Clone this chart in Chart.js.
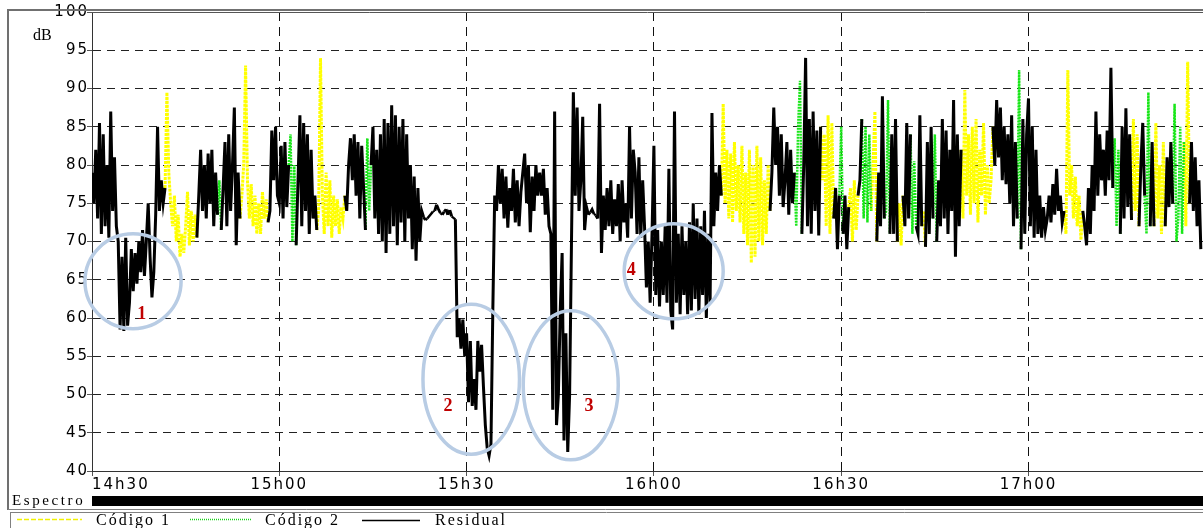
<!DOCTYPE html>
<html>
<head>
<meta charset="utf-8">
<script src="https://cdn.jsdelivr.net/npm/chart.js@4/dist/chart.umd.min.js"></script>
<style>
html,body{margin:0;padding:0;background:#fff;overflow:hidden}
#c{display:block}
</style>
</head>
<body>
<canvas id="c" width="1203" height="528"></canvas>
<script>
// ---- DATA -------------------------------------------------------------
const STEP_MIN = 0.3;                 // minutes between readings (from 14h30)
const X_MAX_MIN = 177.95;             // visible end of the time axis
const timeTicks = [0, 30, 60, 90, 120, 150];
const tickLabels = ['14h30', '15h00', '15h30', '16h00', '16h30', '17h00'];
const dbTicks = [40, 45, 50, 55, 60, 65, 70, 75, 80, 85, 90, 95, 100];
const seriesNames = ['Código 1', 'Código 2', 'Residual'];
const seriesCodes = ['c1', 'c2', 'res'];

// measured level (dB), one reading per STEP_MIN
const level = [
  79, 75, 82, 73, 85.5, 71, 84, 72, 80, 70.5,
  87, 74, 81, 72, 70, 58.5, 68, 58.3, 70.5, 59,
  62, 69, 63.5, 68.5, 64.5, 70, 66, 71.5, 65.5, 70,
  75, 68, 62.7, 66, 73.5, 85, 74, 78, 75, 77,
  89.5, 79, 75, 72, 76, 70, 73.5, 68, 71, 68.5,
  72, 76.5, 69.5, 74, 70, 73.5, 70.5, 76, 82, 74,
  80, 73, 81.5, 75, 82, 72, 79, 73.5, 78, 71.5,
  77, 83, 72, 84, 74, 80, 87.5, 69.5, 79, 73,
  76, 80, 93, 78, 73, 77.5, 72, 76, 71, 75,
  71, 76.5, 73, 75.5, 72.5, 74, 84.5, 78, 85, 76,
  75, 82.5, 73, 83, 74.5, 80, 84, 70, 80, 69.5,
  78, 86.5, 72, 85.5, 74, 84, 71, 82, 73, 76,
  71.5, 74, 94, 76, 71, 79, 72, 78, 70.5, 76,
  72, 75.5, 71, 74.5, 73, 76, 74, 80, 83.5, 78,
  84, 76, 83, 73, 82.5, 77, 71.5, 83.5, 74, 80,
  85, 73, 82, 71, 84, 70, 86, 68.5, 85.5, 71,
  87.8, 72, 86.5, 69.5, 85, 72.5, 86, 70, 84, 73,
  80, 69, 78.5, 67.5, 77, 70, 74, 73.2, 72.8, 73,
  73.3, 73.6, 73.9, 74, 74.8, 74.2, 73.7, 73.5, 73.9, 74.2,
  73.5, 74.1, 73.3, 73.1, 72.9, 57.5, 60, 56, 59.8, 55,
  58, 49, 57, 48.5, 52, 48, 57, 53, 56.5, 51,
  46, 43, 42, 43.5, 61, 76, 74, 80, 75, 79.5,
  73, 78.5, 71.8, 77, 74, 79.5, 72.5, 78, 72, 76.5,
  79, 81.5, 75, 80, 71.2, 78.5, 74, 80, 76, 79,
  76, 79.5, 73.5, 77, 72, 71, 48, 87, 46, 50,
  61, 68.5, 44, 58, 42.5, 50, 70, 89.5, 76, 87.5,
  74, 78, 86.3, 71.5, 74.5, 73.5, 73.8, 74.2, 73.6, 73.4,
  73, 88, 68.5, 76, 71.5, 77, 72, 78, 71, 75.5,
  72, 77.5, 70, 78, 72.5, 75, 70.5, 85, 73, 82,
  79, 71, 81, 70.5, 78, 72, 64, 70, 62, 71,
  82.5, 63, 71.5, 61.5, 70, 63, 72, 62, 79.5, 61,
  58.5, 87, 62, 71, 60.5, 72, 63, 70, 60.5, 72.5,
  61, 75, 62.5, 73, 60.5, 72, 63, 74, 60, 71,
  62, 86.8, 72, 79, 74, 80, 76, 88, 75, 82,
  73, 81.5, 72.5, 83, 74, 80, 72.5, 82.5, 71, 79,
  69.5, 82, 67.2, 80, 68, 82.5, 70, 81, 69.5, 78,
  71, 80, 74, 79, 87.5, 80, 85, 76, 84, 74.5,
  78, 83, 73.5, 82, 75, 79, 72, 85, 91, 71,
  80, 94, 72, 86, 71, 87, 74, 84.5, 70.8, 85,
  78, 84, 72, 86.5, 71, 85.5, 73, 77, 69, 76,
  85, 71, 76, 69, 74.5, 77, 70, 78, 71.5, 76,
  78, 86, 73, 85, 72.5, 84, 74, 80, 87, 70,
  79, 72, 89, 73, 74, 88.5, 71, 84, 71, 86,
  70, 75, 69.5, 76, 72, 85.5, 73, 84, 71, 80.5,
  72, 71, 86.5, 72, 74, 69.3, 83, 71, 85, 73,
  84, 70, 78, 72, 86, 73, 84.5, 71, 82, 74,
  88.5, 68, 84, 72, 82, 73, 89.8, 76, 84, 73.5,
  85, 75, 86, 72.5, 82, 76, 85.5, 73.5, 80, 75,
  78, 85, 80, 88.5, 81, 87.5, 78, 85, 77.5, 84,
  75, 86.5, 72, 83, 73, 92.4, 69, 86, 71, 84,
  88.7, 72, 85, 70.5, 82, 71, 76, 70.5, 74.5, 71.5,
  73, 76, 72.5, 77.5, 73.5, 79.5, 74, 76, 72.5, 74,
  71, 92.4, 76, 80, 73, 78.5, 72, 76, 70.2, 74,
  72, 69.5, 77, 71, 80, 74, 87, 76, 84, 78,
  82, 76, 84.5, 78, 92.7, 77, 83.5, 72, 82, 71,
  85, 73, 87.4, 74.5, 84, 72.8, 86, 74, 84, 72,
  80, 85.5, 76, 71, 89.5, 72, 83, 72, 85.5, 73,
  80, 71, 83, 72, 81, 74.5, 83, 75, 88, 70,
  73, 85, 71, 83, 72, 93.5, 75, 83, 74, 81,
  72, 78, 69
];

// which source each run of readings belongs to: [code, number of readings]
const sourceRuns = [
  ['res', 40], ['c1', 17], ['res', 11], ['c2', 2], ['res', 10], ['c1', 15],
  ['res', 11], ['c2', 4], ['res', 11], ['c1', 15], ['res', 11], ['c2', 3],
  ['res', 187], ['c1', 26], ['res', 13], ['c2', 4], ['res', 10], ['c1', 7],
  ['res', 3], ['c2', 2], ['res', 3], ['c1', 5], ['res', 2], ['c2', 5],
  ['c1', 3], ['res', 4], ['c2', 3], ['res', 4], ['c1', 3], ['res', 4],
  ['c2', 3], ['res', 3], ['c1', 2], ['res', 4], ['c2', 2], ['res', 13],
  ['c1', 17], ['res', 13], ['c2', 2], ['res', 23], ['c1', 10], ['res', 16],
  ['c2', 4], ['res', 6], ['c1', 4], ['res', 3], ['c2', 3], ['res', 2],
  ['c1', 6], ['res', 4], ['c2', 6], ['c1', 3], ['res', 6]
];

// annotation ellipses (centre in minutes / dB, radii in minutes / dB) and their numbers
const noteIds   = ['1', '2', '3', '4'];
const noteT     = [6.57, 60.74, 76.68, 93.17];
const noteDb    = [64.8, 52.0, 51.2, 66.1];
const noteRT    = [7.7, 7.73, 7.61, 7.93];
const noteRDb   = [6.2, 9.8, 9.74, 6.21];
const noteLabT  = [7.96, 57.01, 79.59, 86.37];
const noteLabDb = [59.83, 47.78, 47.78, 65.62];

// ---- BUILD ------------------------------------------------------------
const src = [];
sourceRuns.forEach(([code, n]) => { for (let k = 0; k < n; k++) src.push(code); });

function seriesData(code) {
  const out = [];
  for (let i = 0; i < level.length; i++) {
    const on = src[i] === code || (src[i + 1] === code && src[i] !== code);
    out.push({ x: i * STEP_MIN, y: on ? level[i] : null });
  }
  return out;
}

// residual strokes: steep strokes look heavier than flat ones, as in the original print
function steepWidth(c) {
  const dx = c.p1.x - c.p0.x, dy = c.p1.y - c.p0.y;
  const len = Math.hypot(dx, dy) || 1;
  return Math.round((1.1 + 1.9 * Math.abs(dy) / len) * 4) / 4;
}

const styleFor = {
  c1:  { borderColor: '#ffff00', borderWidth: 3, borderDash: [3, 1], order: 2 },
  c2:  { borderColor: '#19e619', borderWidth: 2.5, borderDash: [2, 1], order: 1 },
  res: { borderColor: '#000000', borderWidth: 2.8, borderDash: [], order: 0,
         segment: { borderWidth: steepWidth } }
};

const datasets = seriesCodes.map((code, k) => Object.assign({
  label: seriesNames[k],
  data: seriesData(code),
  pointRadius: 0,
  spanGaps: false,
  tension: 0,
  fill: false,
  borderJoinStyle: 'miter'
}, styleFor[code]));

function patchLabels(scale, spacing) {
  if (scale._lsPatched) return;
  scale._lsPatched = true;
  const orig = Object.getPrototypeOf(scale).drawLabels;
  scale.drawLabels = function (area) {
    const c = this.ctx;
    c.save();
    c.letterSpacing = spacing;
    orig.call(this, area);
    c.restore();
  };
}

const decor = {
  id: 'decor',
  beforeDraw(chart) {
    patchLabels(chart.scales.x, '2px');
    patchLabels(chart.scales.y, '2px');
  },
  afterDatasetsDraw(chart) {
    const ctx = chart.ctx, xs = chart.scales.x, ys = chart.scales.y;
    ctx.save();
    ctx.strokeStyle = '#b8cce4';
    ctx.lineWidth = 3.5;
    for (let k = 0; k < noteIds.length; k++) {
      const cx = xs.getPixelForValue(noteT[k]);
      const cy = ys.getPixelForValue(noteDb[k]);
      const rx = xs.getPixelForValue(noteT[k] + noteRT[k]) - cx;
      const ry = cy - ys.getPixelForValue(noteDb[k] + noteRDb[k]);
      ctx.beginPath();
      ctx.ellipse(cx, cy, rx, ry, 0, 0, Math.PI * 2);
      ctx.stroke();
    }
    ctx.fillStyle = '#c00000';
    ctx.font = 'bold 18px "Liberation Serif"';
    ctx.textAlign = 'center';
    ctx.textBaseline = 'alphabetic';
    for (let k = 0; k < noteIds.length; k++) {
      ctx.fillText(noteIds[k], xs.getPixelForValue(noteLabT[k]), ys.getPixelForValue(noteLabDb[k]));
    }
    ctx.restore();
  },
  afterDraw(chart) {
    const ctx = chart.ctx, a = chart.chartArea;
    const W = chart.width;
    ctx.save();
    // outer frame
    ctx.strokeStyle = '#707070';
    ctx.lineWidth = 2;
    ctx.beginPath();
    ctx.moveTo(7, 10); ctx.lineTo(W, 10);
    ctx.moveTo(8, 10); ctx.lineTo(8, 510);
    ctx.stroke();
    ctx.lineWidth = 1;
    ctx.strokeStyle = '#808080';
    ctx.beginPath();
    ctx.moveTo(8, 509.5); ctx.lineTo(W, 509.5);
    ctx.moveTo(10, 512.5); ctx.lineTo(W, 512.5);
    ctx.moveTo(10.5, 512); ctx.lineTo(10.5, 528);
    ctx.stroke();
    // plot top border
    ctx.strokeStyle = '#555';
    ctx.beginPath();
    ctx.moveTo(a.left, a.top + 0.5); ctx.lineTo(a.right, a.top + 0.5);
    ctx.stroke();
    // unit label
    ctx.fillStyle = '#000';
    ctx.font = '16px "Liberation Serif"';
    ctx.textBaseline = 'alphabetic';
    ctx.fillText('dB', 33, 39.5);
    // spectrum strip
    ctx.fillRect(a.left, 496, a.right - a.left, 10);
    ctx.font = '15px "Liberation Serif"';
    ctx.letterSpacing = '2.6px';
    ctx.fillText('Espectro', 12, 505);
    // legend
    const legendStyles = [
      { color: '#f2f200', dash: [5, 2], x0: 17, x1: 82, y: 519.5, tx: 96 },
      { color: '#19d019', dash: [1, 1], x0: 190, x1: 252, y: 519.5, tx: 265 },
      { color: '#000000', dash: [], x0: 362, x1: 420, y: 520.5, tx: 435 }
    ];
    ctx.font = '16px "Liberation Serif"';
    ctx.letterSpacing = '2px';
    legendStyles.forEach((s, k) => {
      ctx.save();
      ctx.strokeStyle = s.color;
      ctx.lineWidth = 1.5;
      ctx.setLineDash(s.dash);
      ctx.beginPath();
      ctx.moveTo(s.x0, s.y); ctx.lineTo(s.x1, s.y);
      ctx.stroke();
      ctx.restore();
      ctx.fillText(seriesNames[k], s.tx, 525);
    });
    ctx.restore();
  }
};

new Chart(document.getElementById('c'), {
  type: 'line',
  data: { datasets },
  plugins: [decor],
  options: {
    responsive: false,
    animation: false,
    devicePixelRatio: 1,
    layout: { padding: { left: 0, top: 12, right: 0, bottom: 33 } },
    plugins: { legend: { display: false }, tooltip: { enabled: false } },
    elements: { point: { radius: 0 }, line: { tension: 0 } },
    scales: {
      x: {
        type: 'linear',
        min: 0,
        max: X_MAX_MIN,
        afterBuildTicks: s => {
          s.ticks = timeTicks.map(v => ({ value: v })).concat([{ value: X_MAX_MIN }]);
        },
        afterFit: s => { s.height = 24; },
        ticks: {
          autoSkip: false,
          maxRotation: 0,
          minRotation: 0,
          align: 'inner',
          padding: 0,
          color: '#000',
          font: { family: '"DejaVu Sans"', size: 15 },
          callback: (v, i) => (tickLabels[i] !== undefined ? tickLabels[i] : '')
        },
        grid: {
          lineWidth: 1,
          tickLength: 5,
          color: c => (c.tick && c.tick.value > 0 && c.tick.value < X_MAX_MIN - 0.01) ? '#111' : 'rgba(0,0,0,0)',
          tickColor: c => (c.tick && c.tick.value < X_MAX_MIN - 0.01) ? '#555' : 'rgba(0,0,0,0)'
        },
        border: { display: true, color: '#333', width: 1, dash: [9, 6] }
      },
      y: {
        min: 40,
        max: 100,
        afterBuildTicks: s => { s.ticks = dbTicks.map(v => ({ value: v })); },
        afterFit: s => { s.width = 92; },
        ticks: {
          padding: -2,
          color: '#000',
          font: { family: '"DejaVu Sans"', size: 15 },
          callback: v => String(v)
        },
        grid: {
          lineWidth: 1,
          tickLength: 5,
          color: c => (c.tick && c.tick.value > 40 && c.tick.value < 100) ? '#222' : 'rgba(0,0,0,0)',
          tickColor: '#555'
        },
        border: { display: true, color: '#333', width: 1, dash: [8, 6] }
      }
    }
  }
});
</script>
</body>
</html>
